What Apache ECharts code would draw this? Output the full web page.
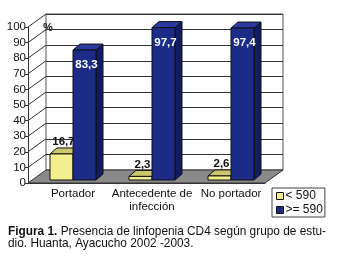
<!DOCTYPE html>
<html>
<head>
<meta charset="utf-8">
<script src="https://cdn.jsdelivr.net/npm/echarts@6/dist/echarts.min.js"></script>
<style>
  html, body { margin: 0; padding: 0; background: #fff; }
  #chart { width: 340px; height: 261px; }
</style>
</head>
<body>
<div id="chart"></div>
<script>
// datos de la figura
var categories = ['Portador', 'Antecedente de\ninfección', 'No portador'];
var lowValues = [16.7, 2.3, 2.6];    // < 590
var highValues = [83.3, 97.7, 97.4]; // >= 590
var seriesNames = ['< 590', '>= 590'];
var caption = '{b|Figura 1.} Presencia de linfopenia CD4 según grupo de estu-\ndio. Huanta, Ayacucho 2002 -2003.';

var FONT = 'Liberation Sans, Arial, sans-serif';
var DX = 18, DY = -13;   // profundidad del "3D" del piso/paredes
var BDX = 7, BDY = -6;   // profundidad de cada barra
var BAR_W = 23;

var colors = [
  { front: '#f4ef8e', top: '#cdc66c', side: '#b8b25c' },
  { front: '#1d2b88', top: '#2a3a9e', side: '#121c62' }
];

function fmt(v) {
  return String(v).replace('.', ',');
}

// piso + pared izquierda
function renderWalls(params, api) {
  var cs = params.coordSys;
  var x0 = cs.x, x1 = cs.x + cs.width;
  var yb = cs.y + cs.height;
  var children = [];
  children.push({
    type: 'polygon',
    shape: { points: [[x0, yb], [x1, yb], [x1 + DX, yb + DY], [x0 + DX, yb + DY]] },
    style: { fill: '#8a8a8a', stroke: '#333', lineWidth: 1 }
  });
  for (var v = 10; v <= 100; v += 10) {
    var y = api.coord([0, v])[1];
    children.push({
      type: 'line',
      shape: { x1: x0, y1: y, x2: x0 + DX, y2: y + DY },
      style: { stroke: '#333', lineWidth: 1 }
    });
  }
  return { type: 'group', children: children };
}

function makeBarRenderer(s, values) {
  return function (params, api) {
    var idx = api.value(0);
    var v = api.value(1);
    var c = api.coord([idx, v]);
    var base = api.coord([idx, 0]);
    var x0 = s === 0 ? c[0] - BAR_W : c[0];
    var x1 = x0 + BAR_W;
    var yT = c[1], yB = base[1];
    var col = colors[s];
    var st = { stroke: '#111', lineWidth: 1, lineJoin: 'round' };
    var children = [
      {
        type: 'polygon',
        shape: { points: [[x1, yT], [x1, yB], [x1 + BDX, yB + BDY], [x1 + BDX, yT + BDY]] },
        style: Object.assign({ fill: col.side }, st)
      },
      {
        type: 'polygon',
        shape: { points: [[x0, yT], [x1, yT], [x1 + BDX, yT + BDY], [x0 + BDX, yT + BDY]] },
        style: Object.assign({ fill: col.top }, st)
      },
      {
        type: 'rect',
        shape: { x: x0, y: yT, width: BAR_W, height: yB - yT },
        style: Object.assign({ fill: col.front }, st)
      }
    ];
    if (s === 0) {
      children.push({
        type: 'text',
        style: {
          x: x0 + BAR_W / 2 + 2, y: yT - 12, text: fmt(values[idx]),
          fill: '#111', font: 'bold 11.5px ' + FONT, align: 'center', verticalAlign: 'middle'
        }
      });
    } else {
      children.push({
        type: 'text',
        style: {
          x: x0 + BAR_W / 2 + 2, y: yT + 15, text: fmt(values[idx]),
          fill: '#fff', font: 'bold 11.5px ' + FONT, align: 'center', verticalAlign: 'middle'
        }
      });
    }
    return { type: 'group', children: children };
  };
}

var options = {
  animation: false,
  backgroundColor: '#fff',
  textStyle: { fontFamily: FONT },
  title: {
    left: 3,
    top: 220,
    text: caption,
    textStyle: {
      fontFamily: FONT, fontSize: 11.85, fontWeight: 'normal', color: '#111', lineHeight: 12.5,
      rich: { b: { fontFamily: FONT, fontSize: 11.85, fontWeight: 'bold', color: '#111' } }
    }
  },
  legend: {
    orient: 'vertical',
    left: 272,
    top: 188,
    padding: [2, 2, 1, 4],
    itemGap: 2,
    itemWidth: 7,
    itemHeight: 7,
    borderColor: '#444',
    borderWidth: 1,
    icon: 'rect',
    itemStyle: { borderColor: '#111', borderWidth: 1 },
    textStyle: { fontFamily: FONT, fontSize: 12, color: '#111', padding: [0, 0, 0, -3] },
    data: seriesNames
  },
  graphic: [
    { type: 'text', left: 43, top: 22, style: { text: '%', font: 'bold 11px ' + FONT, fill: '#111' } }
  ],
  grid: [
    // barras
    { left: 33.5, right: 69.5, top: 24, bottom: 81 },
    // pared del fondo
    { left: 46, right: 57, top: 14, bottom: 91, show: true, backgroundColor: '#fff', borderColor: '#555', borderWidth: 1 },
    // eje frontal
    { left: 28, right: 75, top: 27, bottom: 78 }
  ],
  xAxis: [
    {
      gridIndex: 0, type: 'category', data: categories,
      axisLine: { show: false }, axisTick: { show: false },
      axisLabel: { interval: 0, margin: 7, fontFamily: FONT, fontSize: 11.5, color: '#111', lineHeight: 13 }
    },
    { gridIndex: 1, type: 'value', min: 0, max: 1, show: false },
    {
      gridIndex: 2, type: 'category', data: ['a', 'b', 'c'],
      axisLine: { lineStyle: { color: '#333' } },
      axisTick: { length: 4, lineStyle: { color: '#333' } },
      axisLabel: { show: false }
    }
  ],
  yAxis: [
    { gridIndex: 0, type: 'value', min: 0, max: 100, show: false },
    {
      gridIndex: 1, type: 'value', min: 0, max: 100, interval: 10,
      axisLine: { show: false }, axisTick: { show: false }, axisLabel: { show: false },
      splitLine: { lineStyle: { color: '#333', width: 1 } }
    },
    {
      gridIndex: 2, type: 'value', min: 0, max: 100, interval: 10,
      axisLine: { show: true, lineStyle: { color: '#333' } },
      axisTick: { show: true, length: 3, lineStyle: { color: '#333' } },
      axisLabel: { margin: 2, fontFamily: FONT, fontSize: 11.5, color: '#111' },
      splitLine: { show: false }
    }
  ],
  series: [
    {
      type: 'custom', name: 'walls', xAxisIndex: 2, yAxisIndex: 2, z: 1, silent: true,
      renderItem: renderWalls, data: [[0, 0]]
    },
    {
      type: 'custom', name: seriesNames[0], xAxisIndex: 0, yAxisIndex: 0, z: 3,
      itemStyle: { color: colors[0].front },
      renderItem: makeBarRenderer(0, lowValues),
      data: lowValues.map(function (v, i) { return [i, v]; })
    },
    {
      type: 'custom', name: seriesNames[1], xAxisIndex: 0, yAxisIndex: 0, z: 3,
      itemStyle: { color: colors[1].front },
      renderItem: makeBarRenderer(1, highValues),
      data: highValues.map(function (v, i) { return [i, v]; })
    }
  ]
};

var myChart = echarts.init(document.getElementById('chart'), null, { renderer: 'canvas' });
myChart.setOption(options);
</script>
</body>
</html>
